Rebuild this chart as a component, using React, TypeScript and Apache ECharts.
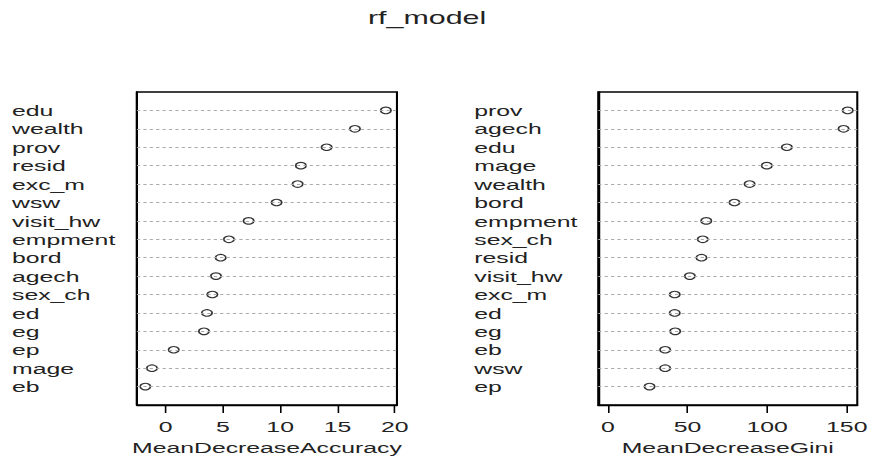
import React, { useEffect, useRef } from "react";
import * as echarts from "echarts";

// Left panel: MeanDecreaseAccuracy (top to bottom)
const accNames = ["edu", "wealth", "prov", "resid", "exc_m", "wsw", "visit_hw", "empment", "bord", "agech", "sex_ch", "ed", "eg", "ep", "mage", "eb"];
const accValues = [19.23, 16.53, 14.06, 11.81, 11.53, 9.69, 7.25, 5.53, 4.81, 4.4, 4.08, 3.61, 3.35, 0.71, -1.19, -1.77];
const accTicks = [0, 5, 10, 15, 20];

// Right panel: MeanDecreaseGini (top to bottom)
const giniNames = ["prov", "agech", "edu", "mage", "wealth", "bord", "empment", "sex_ch", "resid", "visit_hw", "exc_m", "ed", "eg", "eb", "wsw", "ep"];
const giniValues = [150.6, 148, 112.4, 99.8, 89, 79.5, 61.8, 59.6, 58.8, 51.5, 42, 42, 42.3, 36, 36, 26.2];
const giniTicks = [0, 50, 100, 150];

const title = "rf_model";
const accLabel = "MeanDecreaseAccuracy";
const giniLabel = "MeanDecreaseGini";

const SCALE = 1.6;
const INNER_W = 869 / SCALE;
const H = 457;
const FONT = "'Liberation Sans', Arial, Helvetica, sans-serif";

export default function App() {
  const ref = useRef<HTMLDivElement>(null);
  useEffect(() => {
    if (!ref.current) return;
    const chart = echarts.init(ref.current, undefined, { renderer: "svg" });
    const n = accNames.length;
    const rows = accNames.map((_, i) => n - i);

    const mkX = (idx: number, min: number, max: number, ticks: number[], name: string) => ({
      type: "value",
      gridIndex: idx,
      min,
      max,
      name,
      nameLocation: "middle",
      nameGap: 32,
      nameTextStyle: { fontFamily: FONT, fontSize: 15.5, color: "#222" },
      axisLine: { show: true, onZero: false, lineStyle: { color: "#000", width: 1.3 } },
      axisTick: { show: true, length: 8, customValues: ticks, lineStyle: { color: "#000", width: 1 } },
      axisLabel: { show: true, customValues: ticks, margin: 13, fontFamily: FONT, fontSize: 15.5, color: "#222" },
      splitLine: { show: false },
    });

    const mkY = (idx: number, names: string[], margin: number) => ({
      type: "value",
      gridIndex: idx,
      min: 0,
      max: n + 1,
      interval: 1,
      axisLine: { show: true, onZero: false, lineStyle: { color: "#000", width: 1.3 } },
      axisTick: { show: false },
      splitLine: { show: false },
      axisLabel: {
        show: true,
        align: "left",
        margin,
        fontFamily: FONT,
        fontSize: 15.5,
        color: "#222",
        formatter: (v: number) => (v >= 1 && v <= n ? names[n - v] : ""),
      },
    });

    const guide = (idx: number, values: number[]) => ({
      type: "scatter",
      xAxisIndex: idx,
      yAxisIndex: idx,
      z: 1,
      silent: true,
      symbolSize: 0,
      data: values.map((v, i) => [v, n - i]),
      markLine: {
        silent: true,
        symbol: ["none", "none"],
        label: { show: false },
        lineStyle: { color: "#aaa", type: [2, 2], width: 1 },
        data: rows.map((y) => ({ yAxis: y })),
      },
    });

    const points = (idx: number, values: number[]) => ({
      type: "scatter",
      xAxisIndex: idx,
      yAxisIndex: idx,
      z: 3,
      symbol: "circle",
      symbolSize: 6.5,
      itemStyle: { color: "#fff", borderColor: "#000", borderWidth: 1.1 },
      data: values.map((v, i) => [v, n - i]),
    });

    const gridBase = {
      top: 92,
      height: 313,
      show: true,
      borderColor: "#000",
      borderWidth: 1.3,
      backgroundColor: "transparent",
      containLabel: false,
      outerBoundsMode: "none",
    };

    chart.setOption({
      animation: false,
      backgroundColor: "#fff",
      title: {
        text: title,
        left: 230,
        top: 8,
        padding: 0,
        textStyle: { fontFamily: FONT, fontSize: 19, fontWeight: "normal", color: "#222" },
      },
      grid: [
        { ...gridBase, left: 85.6, width: 162.5 },
        { ...gridBase, left: 373.9, width: 161.9 },
      ],
      xAxis: [mkX(0, -2.5, 20.2, accTicks, accLabel), mkX(1, -6.0, 156.6, giniTicks, giniLabel)],
      yAxis: [mkY(0, accNames, 78.1), mkY(1, giniNames, 77.5)],
      series: [guide(0, accValues), guide(1, giniValues), points(0, accValues), points(1, giniValues)],
    });
    return () => chart.dispose();
  }, []);

  return (
    <div
      style={{
        position: "fixed",
        left: 0,
        top: 0,
        width: 869,
        height: H,
        overflow: "hidden",
        background: "#fff",
      }}
    >
      <div
        ref={ref}
        style={{
          width: INNER_W,
          height: H,
          transform: `scaleX(${SCALE})`,
          transformOrigin: "0 0",
        }}
      />
    </div>
  );
}
